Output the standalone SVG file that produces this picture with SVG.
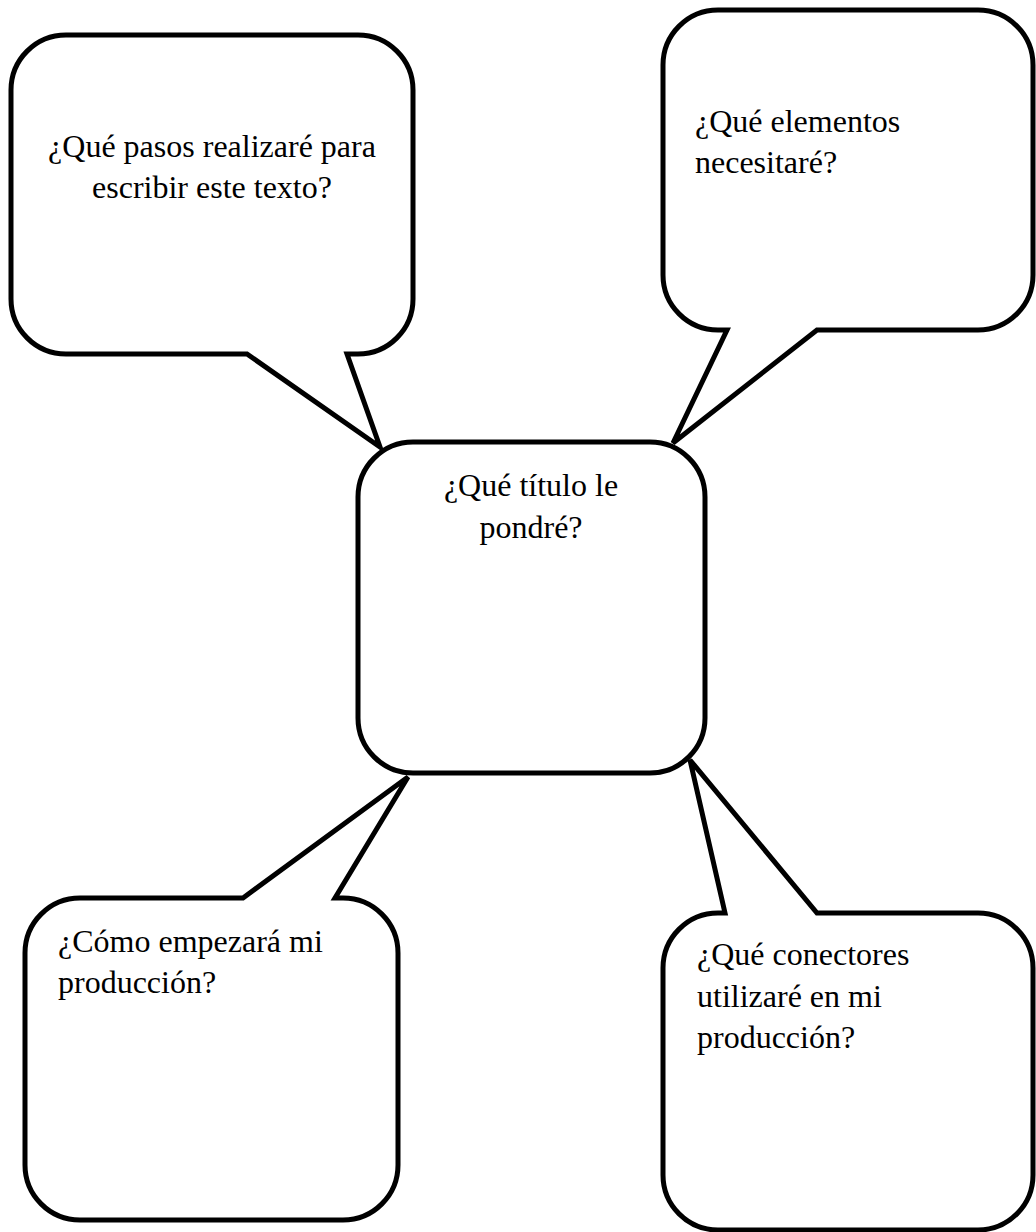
<svg xmlns="http://www.w3.org/2000/svg" width="1036" height="1232" viewBox="0 0 1036 1232">
<style>
.shape{fill:#fff;stroke:#000;stroke-width:5;stroke-linejoin:miter}
.t{font-family:"Liberation Serif","Times New Roman",serif;font-size:32px;fill:#000}
.c{text-anchor:middle}
</style>
<rect width="1036" height="1232" fill="#fff"/>
<g id="connectors"></g>
<g id="node-pasos">
<path class="shape" d="M66,35 H358 A55,55 0 0 1 413,90 V299 A55,55 0 0 1 358,354 H347 L380,447 L247,354 H66 A55,55 0 0 1 11,299 V90 A55,55 0 0 1 66,35 Z"/>
<text class="t c" x="212" y="157">¿Qué pasos realizaré para</text>
<text class="t c" x="212" y="198">escribir este texto?</text>
</g>
<g id="node-elementos">
<path class="shape" d="M718,10 H978 A55,55 0 0 1 1033,65 V275 A55,55 0 0 1 978,330 H817 L673,443 L727,330 H718 A55,55 0 0 1 663,275 V65 A55,55 0 0 1 718,10 Z"/>
<text class="t" x="695" y="132">¿Qué elementos</text>
<text class="t" x="695" y="173">necesitaré?</text>
</g>
<g id="node-empezara">
<path class="shape" d="M80,898 H243 L408,777 L335,898 H343 A55,55 0 0 1 398,953 V1165 A55,55 0 0 1 343,1220 H80 A55,55 0 0 1 25,1165 V953 A55,55 0 0 1 80,898 Z"/>
<text class="t" x="58" y="952">¿Cómo empezará mi</text>
<text class="t" x="58" y="993">producción?</text>
</g>
<g id="node-conectores">
<path class="shape" d="M718,913 H725 L690,760 L817,913 H978 A55,55 0 0 1 1033,968 V1175 A55,55 0 0 1 978,1230 H718 A55,55 0 0 1 663,1175 V968 A55,55 0 0 1 718,913 Z"/>
<text class="t" x="697" y="965">¿Qué conectores</text>
<text class="t" x="697" y="1007">utilizaré en mi</text>
<text class="t" x="697" y="1048">producción?</text>
</g>
<g id="node-titulo">
<rect class="shape" x="358" y="442" width="347" height="331" rx="55" ry="55"/>
<text class="t c" x="531" y="496">¿Qué título le</text>
<text class="t c" x="531" y="538">pondré?</text>
</g>
</svg>
